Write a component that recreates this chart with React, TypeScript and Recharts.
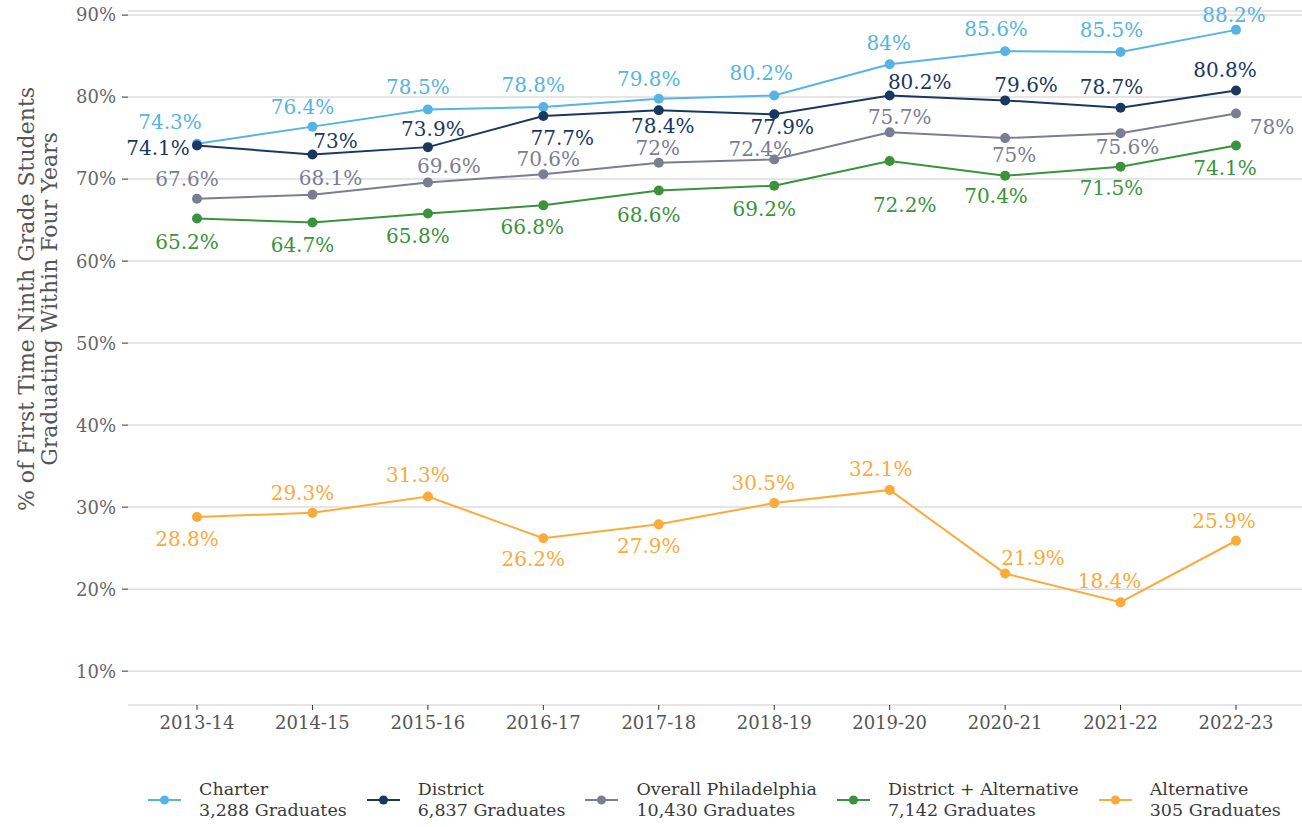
import React from 'react';
import { LineChart, Line, XAxis, YAxis, CartesianGrid, LabelList, Legend, Label } from 'recharts';

const years = ['2013-14', '2014-15', '2015-16', '2016-17', '2017-18', '2018-19', '2019-20', '2020-21', '2021-22', '2022-23'];
const charter = [74.3, 76.4, 78.5, 78.8, 79.8, 80.2, 84, 85.6, 85.5, 88.2];
const district = [74.1, 73, 73.9, 77.7, 78.4, 77.9, 80.2, 79.6, 78.7, 80.8];
const overall = [67.6, 68.1, 69.6, 70.6, 72, 72.4, 75.7, 75, 75.6, 78];
const districtAlt = [65.2, 64.7, 65.8, 66.8, 68.6, 69.2, 72.2, 70.4, 71.5, 74.1];
const alternative = [28.8, 29.3, 31.3, 26.2, 27.9, 30.5, 32.1, 21.9, 18.4, 25.9];
const yTicks = [10, 20, 30, 40, 50, 60, 70, 80, 90];

const seriesNames = ['Charter', 'District', 'Overall Philadelphia', 'District + Alternative', 'Alternative'];
const seriesGraduates = ['3,288 Graduates', '6,837 Graduates', '10,430 Graduates', '7,142 Graduates', '305 Graduates'];
const seriesKeys = ['charter', 'district', 'overall', 'districtAlt', 'alternative'];
const seriesColors = ['#56b4e3', '#1a3760', '#7b7e91', '#3b923c', '#fcaa3a'];

// label offsets (styling) relative to each point
const labelDx = [
  [-27, -10, -10, -10, -10, -13, -1, -9, -9, -2],
  [-39, 23, 5, 19, 4, 8, 30, 21, -9, -11],
  [-10, 18, 21, 5, -1, -14, 10, 9, 7, 36],
  [-10, -10, -10, -11, -10, -10, 15, -9, -9, -11],
  [-10, -10, -10, -10, -10, -11, -9, 28, -11, -12],
];
const labelDy = [
  [-22, -20, -22, -22, -20, -22, -21, -22, -22, -15],
  [3, -14, -18, 22, 16, 13, -13, -15, -21, -21],
  [-20, -17, -16, -15, -15, -10, -15, 17, 14, 13],
  [24, 22, 22, 22, 24, 23, 44, 20, 21, 23],
  [22, -20, -21, 21, 22, -20, -21, -16, -21, -20],
];

const data = years.map((y, i) => ({
  year: y,
  charter: charter[i],
  district: district[i],
  overall: overall[i],
  districtAlt: districtAlt[i],
  alternative: alternative[i],
}));

const FONT = "'DejaVu Serif', serif";

const makeLabel = (s: number) => (props: any) => {
  const { x, y, value, index } = props;
  return (
    <text
      x={x + labelDx[s][index]}
      y={y + labelDy[s][index]}
      textAnchor="middle"
      dominantBaseline="central"
      fontFamily={FONT}
      fontSize={20}
      fill={seriesColors[s]}
    >
      {value}%
    </text>
  );
};

const renderLegend = () => (
  <div style={{ display: 'flex', justifyContent: 'flex-start', paddingLeft: 148, fontFamily: FONT, fontSize: 17.5, color: '#3a3a3a', lineHeight: '21px' }}>
    {seriesNames.map((n, i) => (
      <div key={n} style={{ display: 'flex', alignItems: 'center', marginRight: 20 }}>
        <svg width={33} height={12} style={{ marginRight: 18 }}>
          <line x1={0} y1={6} x2={33} y2={6} stroke={seriesColors[i]} strokeWidth={2} />
          <circle cx={16.5} cy={6} r={4.5} fill={seriesColors[i]} />
        </svg>
        <div style={{ whiteSpace: 'nowrap' }}>
          <div>{n}</div>
          <div>{seriesGraduates[i]}</div>
        </div>
      </div>
    ))}
  </div>
);

const yTitle = () => {
  const cy = 299;
  return (
    <g fontFamily={FONT} fontSize={22} fill="#555">
      <text x={26} y={cy} transform={`rotate(-90, 26, ${cy})`} textAnchor="middle" dominantBaseline="central">% of First Time Ninth Grade Students</text>
      <text x={49} y={cy} transform={`rotate(-90, 49, ${cy})`} textAnchor="middle" dominantBaseline="central">Graduating Within Four Years</text>
    </g>
  );
};

export default function App() {
  return (
    <div style={{ position: 'absolute', left: 0, top: 0, width: 1302, height: 827, background: '#fff' }}>
      <LineChart width={1302} height={827} data={data} margin={{ top: 11, right: 0, left: 0, bottom: 42 }}>
        <CartesianGrid vertical={false} stroke="#dcdcdc" strokeWidth={1.5} />
        <XAxis
          dataKey="year"
          scale="point"
          padding={{ left: 69, right: 66 }}
          axisLine={false}
          tickSize={5}
          tickLine={{ stroke: '#333' }}
          tickMargin={6}
          height={30}
          tick={{ fontFamily: FONT, fontSize: 18, fill: '#555' }}
        />
        <YAxis
          domain={[5.87, 90.5]}
          ticks={yTicks}
          width={128}
          axisLine={false}
          tickSize={6}
          tickLine={{ stroke: '#333' }}
          tickMargin={6}
          tickFormatter={(v: number) => `${v}%`}
          tick={{ fontFamily: FONT, fontSize: 18, fill: '#666' }}
        >
          <Label content={yTitle} />
        </YAxis>
        <Legend verticalAlign="bottom" content={renderLegend} wrapperStyle={{ height: 50, top: 779, left: 0 }} />
        {seriesKeys.map((k, s) => (
          <Line
            key={k}
            dataKey={k}
            name={seriesNames[s]}
            stroke={seriesColors[s]}
            strokeWidth={2}
            dot={{ r: 5, fill: seriesColors[s], stroke: 'none' }}
            activeDot={false}
            isAnimationActive={false}
          >
            <LabelList dataKey={k} content={makeLabel(s)} />
          </Line>
        ))}
      </LineChart>
    </div>
  );
}
